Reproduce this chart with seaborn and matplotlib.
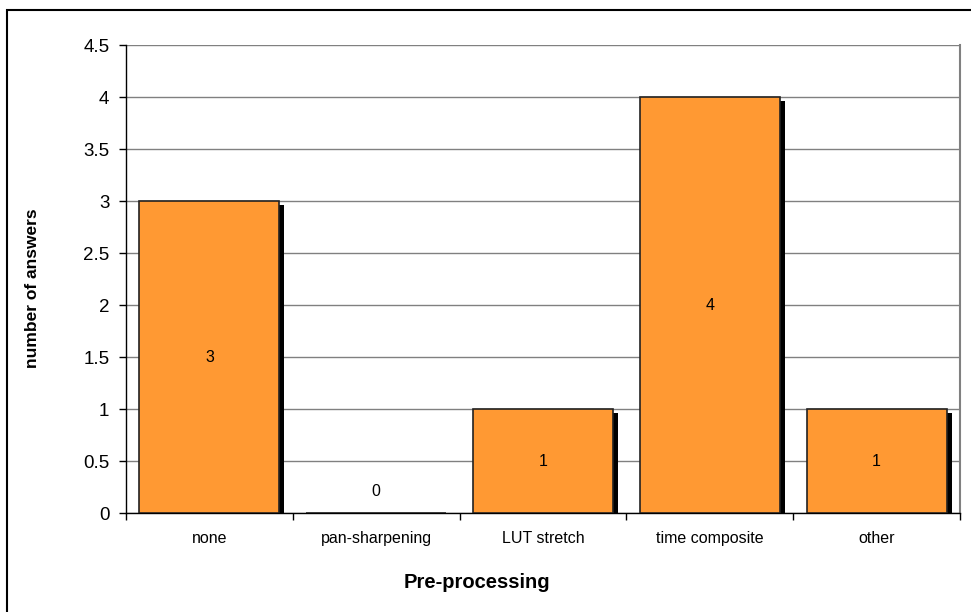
import matplotlib
matplotlib.use("Agg")
import matplotlib.pyplot as plt
import matplotlib.transforms as mtransforms
from matplotlib.patches import Rectangle
import seaborn as sns
import pandas as pd

categories = ["none", "pan-sharpening", "LUT stretch", "time composite", "other"]
values = [3, 0, 1, 4, 1]
yticks = [0, 0.5, 1, 1.5, 2, 2.5, 3, 3.5, 4, 4.5]
ytick_labels = ["0", "0.5", "1", "1.5", "2", "2.5", "3", "3.5", "4", "4.5"]

sns.set_theme(style="white")
plt.rcParams['font.family'] = ['Liberation Sans', 'DejaVu Sans']

df = pd.DataFrame({"cat": categories, "val": values})

fig = plt.figure(figsize=(9.71, 6.12), dpi=100)
ax = fig.add_axes([126/971, 1 - 513/612, (960 - 126)/971, (513 - 45)/612])

sns.barplot(data=df, x="cat", y="val", color="#FF9933", saturation=1,
            edgecolor="#222222", linewidth=1.2, width=0.84, ax=ax, zorder=3)

# shadows
shadow_tr = mtransforms.offset_copy(ax.transData, fig=fig, x=5, y=-4, units='dots')
for p in list(ax.patches):
    if p.get_height() > 0:
        r = Rectangle((p.get_x(), p.get_y()), p.get_width(), p.get_height(),
                      facecolor="black", edgecolor="none", transform=shadow_tr, zorder=2)
        ax.add_patch(r)

ax.set_ylim(0, 4.5)
ax.set_xlim(-0.5, len(categories) - 0.5)
ax.set_yticks(yticks)
ax.set_yticklabels(ytick_labels, fontsize=13.5, color="black")
ax.yaxis.grid(True, color="#808080", linewidth=1.0, zorder=0)
ax.set_axisbelow(True)

# x ticks between categories
ax.set_xticks(range(len(categories)))
ax.set_xticklabels(categories, fontsize=11.5, color="black")
ax.tick_params(axis="x", length=0, pad=13)
ax.set_xticks([i - 0.5 for i in range(len(categories) + 1)], minor=True)
ax.tick_params(axis="x", which="minor", length=5, width=1, color="black", direction="out", bottom=True)
ax.tick_params(axis="y", length=5, width=1, color="black", direction="out", left=True, pad=7)

ax.spines["top"].set_visible(False)
ax.spines["right"].set_color("#808080")
ax.spines["right"].set_linewidth(1.5)
for s in ["left", "bottom"]:
    ax.spines[s].set_color("black")
    ax.spines[s].set_linewidth(1.0)

for i, v in enumerate(values):
    ax.text(i, max(v / 2, 0.21), str(v), ha="center", va="center", fontsize=11.5,
            color="black", zorder=5)

ax.set_xlabel("")
ax.set_ylabel("")
fig.text(477/971, 1 - 583/612, "Pre-processing", fontsize=14.5, fontweight="bold",
         ha="center", va="center", color="black")
fig.text(33/971, 1 - 288/612, "number of answers", fontsize=12.5, fontweight="bold",
         ha="center", va="center", rotation=90, color="black")

# figure border
fig.patches.append(Rectangle((7/971, -0.1), 1.2, (612 - 10)/612 + 0.1,
                             transform=fig.transFigure, facecolor="none",
                             edgecolor="black", linewidth=1.5, zorder=0))

fig.savefig("out.png", dpi=100)
